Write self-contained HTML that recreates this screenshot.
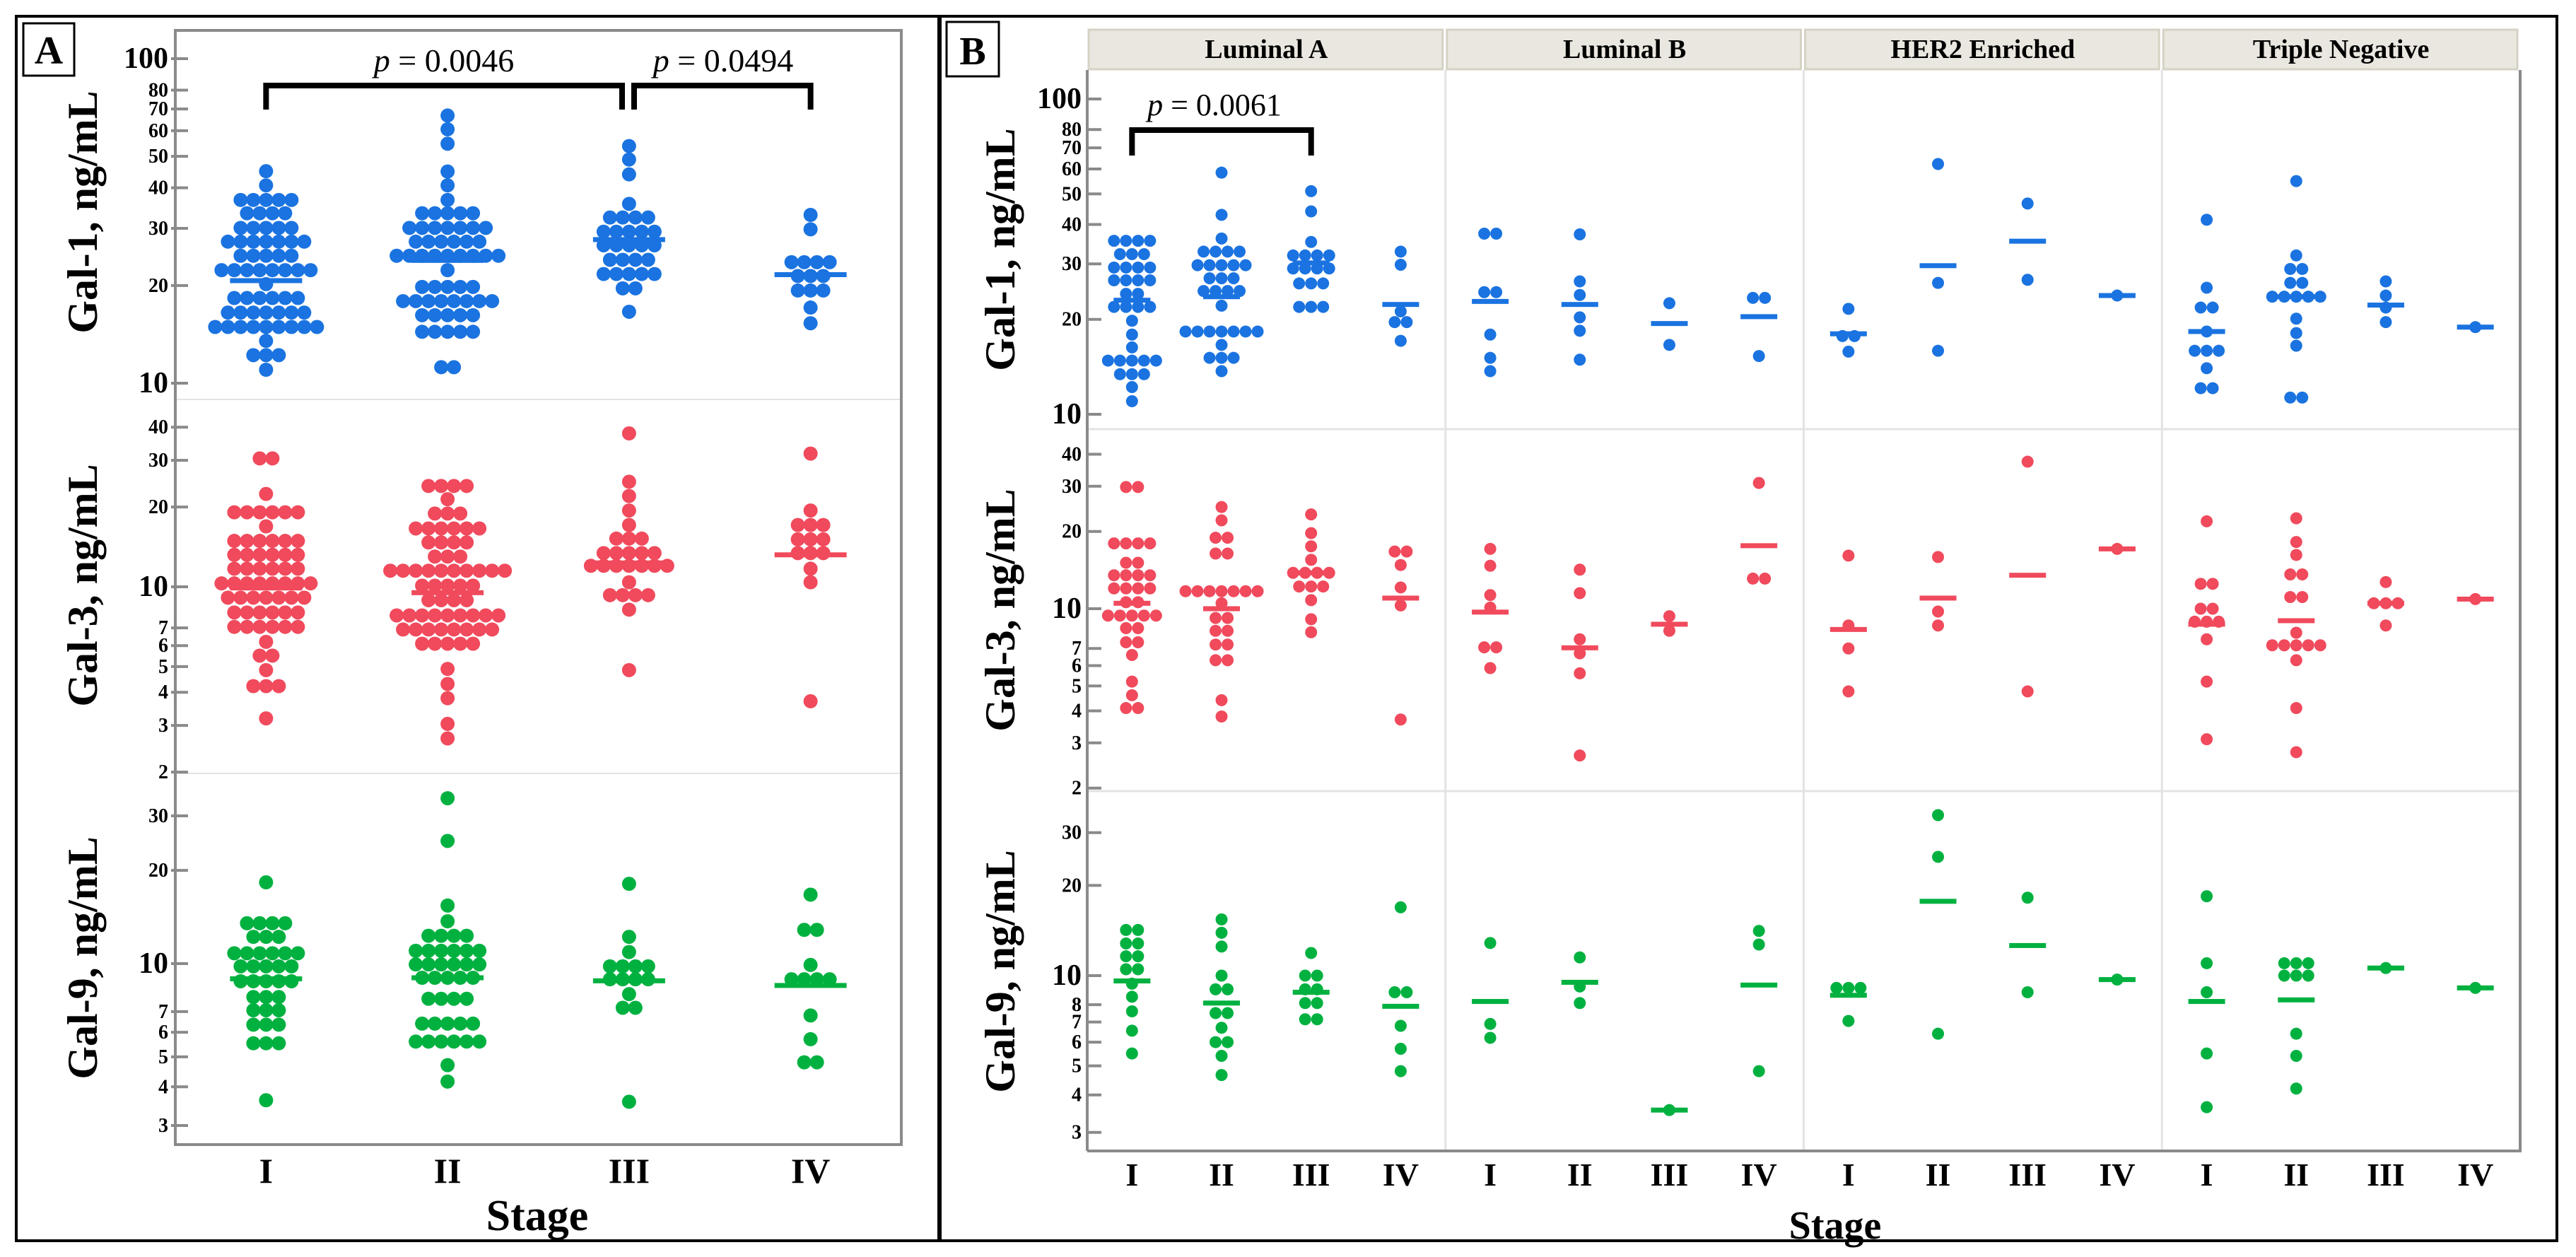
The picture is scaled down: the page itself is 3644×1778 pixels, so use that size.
<!DOCTYPE html>
<html><head><meta charset="utf-8"><style>
html,body{margin:0;padding:0;background:#fff}
svg{display:block}
text{font-family:"Liberation Serif",serif}
</style></head><body>
<svg id="chart" width="3644" height="1778" viewBox="0 0 3644 1778" xmlns="http://www.w3.org/2000/svg"></svg>
<script>
// ---------- data ----------
const stages = ["I","II","III","IV"];
const subtypes = ["Luminal A","Luminal B","HER2 Enriched","Triple Negative"];
const ticksG1 = [100,80,70,60,50,40,30,20,10];
const ticksG3 = [40,30,20,10,7,6,5,4,3,2];
const ticksG9A = [30,20,10,7,6,5,4,3];
const ticksG9B = [30,20,10,8,7,6,5,4,3];

const A_g1 = [
 [[45,1],[40.7,1],[36.7,5],[33.4,4],[30.1,5],[27.3,7],[24.7,5],[22.3,8],[20.2,1],[18.3,6],[16.5,7],[14.9,9],[13.5,1],[12.2,3],[11,1]],
 [[66.8,1],[60.6,1],[54.7,1],[44.9,1],[40.7,1],[36.7,1],[33.4,5],[30.1,7],[27.3,6],[24.7,9],[22.3,1],[19.8,5],[17.9,8],[16.2,5],[14.4,5],[11.2,2]],
 [[53.8,1],[48.9,1],[44,1],[35.7,1],[32.4,4],[29.3,5],[26.6,5],[24,4],[21.7,5],[19.6,2],[16.6,1]],
 [[33,1],[29.8,1],[23.6,4],[21.4,3],[19.3,3],[17.1,1],[15.3,1]]];
const A_g1_mean = [20.7,23.9,27.7,21.6];
const A_g3 = [
 [[30.5,2],[22.4,1],[19.1,6],[16.9,1],[14.9,6],[13.2,6],[11.7,6],[10.3,8],[9.1,7],[8,6],[7.06,6],[6.2,1],[5.5,2],[4.85,1],[4.22,3],[3.19,1]],
 [[24,4],[21.4,1],[18.9,3],[16.6,6],[14.7,4],[13,3],[11.5,10],[10.1,5],[8.9,4],[7.8,9],[6.9,8],[6.1,5],[4.9,1],[4.3,1],[3.8,1],[3.04,1],[2.68,1]],
 [[37.9,1],[24.9,1],[22,1],[19.4,1],[17.1,1],[15.2,3],[13.4,5],[12,7],[10.4,1],[9.3,4],[8.2,1],[4.85,1]],
 [[31.8,1],[19.4,1],[17.1,3],[15.1,3],[13.4,3],[11.7,1],[10.4,1],[3.7,1]]];
const A_g3_mean = [9.9,9.5,12.3,13.2];
const A_g9 = [
 [[18.3,1],[13.5,4],[12.2,3],[10.8,6],[9.8,5],[8.77,5],[7.8,3],[7.07,3],[6.35,3],[5.53,3],[3.62,1]],
 [[34.2,1],[24.9,1],[15.4,1],[13.7,1],[12.3,4],[11,6],[9.94,6],[9,5],[7.7,4],[6.4,5],[5.6,6],[4.7,1],[4.16,1]],
 [[18.1,1],[12.2,1],[10.9,1],[9.8,4],[8.9,4],[7.97,1],[7.2,2],[3.58,1]],
 [[16.7,1],[12.85,2],[9.9,1],[8.9,4],[6.8,1],[5.7,1],[4.8,2]]];
const A_g9_mean = [8.93,9.0,8.8,8.5];

const B_g1 = [
 [[35.5,4],[32.2,3],[29.2,4],[26.6,4],[24.1,2],[21.9,4],[19.8,1],[17.9,1],[16.3,1],[14.8,5],[13.4,3],[12.2,1],[11,1]],
 [[58.4,1],[42.9,1],[36.1,1],[32.8,4],[29.7,5],[27,3],[24.6,4],[22.1,1],[18.3,7],[16.6,1],[15.1,3],[13.7,1]],
 [[51,1],[44,1],[35.2,1],[31.9,4],[29,4],[26,3],[21.9,3]],
 [[32.8,1],[29.8,1],[21.2,1],[19.6,2],[17.1,1]],
 [[37.4,2],[24.4,2],[17.9,1],[15.1,1],[13.7,1]],
 [[37.2,1],[26.4,1],[23.9,1],[20.3,1],[18.4,1],[14.9,1]],
 [[22.5,1],[16.6,1]],
 [[23.4,2],[15.3,1]],
 [[21.6,1],[17.7,2],[15.8,1]],
 [[62.2,1],[26.1,1],[15.9,1]],
 [[46.6,1],[26.7,1]],
 [[23.8,1]],
 [[41.4,1],[25.2,1],[21.8,2],[18.3,1],[15.9,3],[14,1],[12.1,2]],
 [[54.9,1],[31.9,1],[28.9,2],[26.1,2],[23.6,5],[20.1,1],[18.1,1],[16.5,1],[11.3,2]],
 [[26.4,1],[23.8,1],[21.8,1],[19.6,1]],
 [[18.9,1]]];
const B_g1_mean = [23,23.6,30.2,22.3, 22.8,22.3,19.4,20.4, 18.0,29.6,35.4,23.8, 18.3,23.6,22.2,18.9];
const B_g3 = [
 [[29.8,2],[17.97,4],[15.1,2],[13.5,4],[12,4],[10.6,2],[9.4,5],[8.4,2],[7.4,2],[6.6,1],[5.2,1],[4.6,1],[4.1,2]],
 [[24.9,1],[22.1,1],[18.9,2],[16.4,2],[11.7,7],[10.5,1],[9.2,2],[8.2,2],[7.25,2],[6.3,2],[4.4,1],[3.8,1]],
 [[23.3,1],[19.7,1],[17.5,1],[15.5,1],[13.8,4],[12.2,3],[10.8,1],[9.1,1],[8.1,1]],
 [[16.7,2],[14.8,1],[12.1,1],[10.3,1],[3.7,1]],
 [[17.1,1],[14.7,1],[11.3,1],[10.1,1],[7.07,2],[5.87,1]],
 [[14.2,1],[11.5,1],[7.6,1],[6.7,1],[5.6,1],[2.68,1]],
 [[9.35,1],[8.2,1]],
 [[30.9,1],[13.1,2]],
 [[16.1,1],[8.6,1],[7,1],[4.76,1]],
 [[15.9,1],[9.75,1],[8.6,1]],
 [[37.4,1],[4.76,1]],
 [[17.1,1]],
 [[21.9,1],[12.5,2],[10,2],[8.9,3],[7.6,1],[5.2,1],[3.1,1]],
 [[22.5,1],[18.2,1],[16.2,1],[13.6,2],[11.1,2],[8.06,1],[7.2,5],[6.3,1],[4.1,1],[2.76,1]],
 [[12.7,1],[10.5,3],[8.6,1]],
 [[10.9,1]]];
const B_g3_mean = [10.5,10.0,13.8,11.0, 9.7,7.04,8.7,17.6, 8.3,11.0,13.5,17.1, 8.7,8.98,10.5,10.9];
const B_g9 = [
 [[14.2,2],[12.8,2],[11.6,2],[10.5,2],[9.4,1],[8.5,1],[7.6,1],[6.55,1],[5.5,1]],
 [[15.4,1],[13.9,1],[12.5,1],[10,1],[9,2],[7.5,2],[6.7,1],[6,2],[5.4,1],[4.66,1]],
 [[11.9,1],[10,2],[9,2],[8.1,2],[7.15,2]],
 [[16.9,1],[8.8,2],[6.8,1],[5.7,1],[4.8,1]],
 [[12.85,1],[6.9,1],[6.2,1]],
 [[11.5,1],[9.2,1],[8.1,1]],
 [[3.56,1]],
 [[14.1,1],[12.7,1],[4.8,1]],
 [[9.1,3],[7.06,1]],
 [[34.3,1],[24.9,1],[6.4,1]],
 [[18.2,1],[8.8,1]],
 [[9.7,1]],
 [[18.4,1],[11,1],[8.8,1],[5.5,1],[3.64,1]],
 [[11,3],[10,3],[6.4,1],[5.4,1],[4.2,1]],
 [[10.6,1]],
 [[9.1,1]]];
const B_g9_mean = [9.6,8.1,8.8,7.9, 8.2,9.5,3.56,9.3, 8.6,17.7,12.6,9.7, 8.2,8.3,10.6,9.1];

// ---------- drawing ----------
const NS = "http://www.w3.org/2000/svg";
const svg = document.getElementById('chart');
function mk(tag, attrs, parent, txt){
  const e = document.createElementNS(NS, tag);
  for (const k in attrs) e.setAttribute(k, attrs[k]);
  if (txt !== undefined) e.textContent = txt;
  (parent || svg).appendChild(e);
  return e;
}
const BLUE="#1a73e0", RED="#f04a5c", GREEN="#00b140", GRAY="#8a8a8a", LIGHT="#e3e3e3";
function yScale(y10, dec){ return v => y10 - (Math.log10(v) - 1) * dec; }

// Panel A geometry
const A = {l:248, r:1275, t:43, b:1619};
const xA = i => A.l + (i + 0.5) * (A.r - A.l) / 4;
const yA1 = yScale(542, 459), yA3 = yScale(830, 375), yA9 = yScale(1363, 438);
// Panel B geometry
const B = {l:1538, r:3565, t:99, b:1628};
const fw = (B.r - B.l) / 4;
const xB = g => B.l + Math.floor(g/4) * fw + ((g%4) + 0.5) * fw / 4;
const yB1 = yScale(586, 446), yB3 = yScale(861, 363), yB9 = yScale(1380, 424);

// borders
let e;
e = mk('rect',{x:23,y:23,width:1305,height:1732,fill:'none',stroke:'#000','stroke-width':4});  
e = mk('rect',{x:1330,y:23,width:2287,height:1732,fill:'none',stroke:'#000','stroke-width':4});  
e = mk('rect',{x:33,y:33,width:72,height:74,fill:'#fff',stroke:'#000','stroke-width':3});  
e = mk('text',{x:69,y:90,'font-size':56,'font-weight':'bold','text-anchor':'middle'},svg,'A');  
e = mk('rect',{x:1339,y:31,width:74,height:77,fill:'#fff',stroke:'#000','stroke-width':3});  
e = mk('text',{x:1376,y:91,'font-size':56,'font-weight':'bold','text-anchor':'middle'},svg,'B');  

// Panel A frame and row dividers
e = mk('line',{x1:A.l,y1:565,x2:A.r,y2:565,stroke:LIGHT,'stroke-width':2});  
e = mk('line',{x1:A.l,y1:1094,x2:A.r,y2:1094,stroke:LIGHT,'stroke-width':2});  
e = mk('rect',{x:A.l,y:A.t,width:A.r-A.l,height:A.b-A.t,fill:'none',stroke:GRAY,'stroke-width':4});  

// Panel B strips, facet dividers, frame
subtypes.forEach((s,f)=>{
  const x0 = B.l + f*fw;
  e = mk('rect',{x:x0+2,y:42,width:fw-6,height:56,fill:'#e9e7df',stroke:'#d6d2c4','stroke-width':3});  
  e = mk('text',{x:x0+fw/2,y:82,'font-size':38,'font-weight':'bold','text-anchor':'middle'},svg,s);  
  if (f>0){ e = mk('line',{x1:x0,y1:B.t,x2:x0,y2:B.b,stroke:LIGHT,'stroke-width':3});   }
});
[607,1119].forEach(y=>{ e = mk('line',{x1:B.l,y1:y,x2:B.r,y2:y,stroke:LIGHT,'stroke-width':3});   });
e = mk('line',{x1:B.l,y1:B.t,x2:B.l,y2:B.b,stroke:GRAY,'stroke-width':4});  
e = mk('line',{x1:B.l,y1:B.b,x2:B.r+2,y2:B.b,stroke:GRAY,'stroke-width':4});  
e = mk('line',{x1:B.r,y1:B.t,x2:B.r,y2:B.b,stroke:GRAY,'stroke-width':4});  

// Ticks
function ticks(vals, ys, labelX, tx1, tx2, name){
  vals.forEach(v=>{
    const y = ys(v);
    const big = (v===10||v===100);
    e = mk('line',{x1:tx1,y1:y,x2:tx2,y2:y,stroke:GRAY,'stroke-width':4});  
    e = mk('text',{x:labelX,y:y+(big?13:9),'font-size':big?42:28,'font-weight':'bold','text-anchor':'end'},svg,String(v));  
  });
}
ticks(ticksG1, yA1, 238, 242, 266, 'a-gal1');
ticks(ticksG3, yA3, 238, 242, 266, 'a-gal3');
ticks(ticksG9A, yA9, 238, 242, 266, 'a-gal9');
ticks(ticksG1, yB1, 1530, 1538, 1558, 'b-gal1');
ticks(ticksG3, yB3, 1530, 1538, 1558, 'b-gal3');
ticks(ticksG9B, yB9, 1530, 1538, 1558, 'b-gal9');

// y titles
function ytitle(x, y, txt, name){
  e = mk('text',{x:x,y:y,'font-size':60,'font-weight':'bold','text-anchor':'middle',transform:`rotate(-90 ${x} ${y})`},svg,txt);
   
}
ytitle(137,300,'Gal-1, ng/mL','a-gal1-axis-title');
ytitle(137,828,'Gal-3, ng/mL','a-gal3-axis-title');
ytitle(137,1355,'Gal-9, ng/mL','a-gal9-axis-title');
ytitle(1435,353,'Gal-1, ng/mL','b-gal1-axis-title');
ytitle(1435,863,'Gal-3, ng/mL','b-gal3-axis-title');
ytitle(1435,1374,'Gal-9, ng/mL','b-gal9-axis-title');

// x labels
stages.forEach((s,i)=>{ e = mk('text',{x:xA(i),y:1673,'font-size':50,'font-weight':'bold','text-anchor':'middle'},svg,s);   });
for (let g=0; g<16; g++){ e = mk('text',{x:xB(g),y:1677,'font-size':46,'font-weight':'bold','text-anchor':'middle'},svg,stages[g%4]);   }
e = mk('text',{x:760,y:1740,'font-size':62,'font-weight':'bold','text-anchor':'middle'},svg,'Stage');  
e = mk('text',{x:2596,y:1752,'font-size':56,'font-weight':'bold','text-anchor':'middle'},svg,'Stage');  

// swarm drawing
function swarm(groups, means, xf, ys, color, r, step, lw, name){
  groups.forEach((grp,i)=>{
    const cx = xf(i);
    grp.forEach(([v,n])=>{
      for (let k=0;k<n;k++){
        const x = cx + (k - (n-1)/2) * step;
        e = mk('circle',{cx:x,cy:ys(v),r:r,fill:color});
         
      }
    });
    e = mk('rect',{x:cx-lw/2,y:ys(means[i])-3.5,width:lw,height:7,fill:color});
     
  });
}
swarm(A_g1, A_g1_mean, xA, yA1, BLUE, 10, 18, 102, 'a-gal1');
swarm(A_g3, A_g3_mean, xA, yA3, RED, 10, 18, 102, 'a-gal3');
swarm(A_g9, A_g9_mean, xA, yA9, GREEN, 10, 18, 102, 'a-gal9');
swarm(B_g1, B_g1_mean, xB, yB1, BLUE, 8.5, 17, 52, 'b-gal1');
swarm(B_g3, B_g3_mean, xB, yB3, RED, 8.5, 17, 52, 'b-gal3');
swarm(B_g9, B_g9_mean, xB, yB9, GREEN, 8.5, 17, 52, 'b-gal9');

// significance brackets
function bracket(x1, x2, yTop, yBot, label, tx, ty, fs, name){
  e = mk('path',{d:`M${x1},${yBot} L${x1},${yTop} L${x2},${yTop} L${x2},${yBot}`,fill:'none',stroke:'#000','stroke-width':8});
   
  const t = mk('text',{x:tx,y:ty,'font-size':fs,'text-anchor':'middle'});
   
  mk('tspan',{'font-style':'italic'},t,'p');
  mk('tspan',{},t,' = '+label);
}
bracket(xA(0), 880, 121, 155, '0.0046', 628, 101, 46, 'p-value-i-iii');
bracket(897, xA(3), 121, 155, '0.0494', 1023, 101, 46, 'p-value-iii-iv');
bracket(xB(0), xB(2), 184, 220, '0.0061', 1718, 163, 44, 'p-value-luminal-a');
</script>
</body></html>
